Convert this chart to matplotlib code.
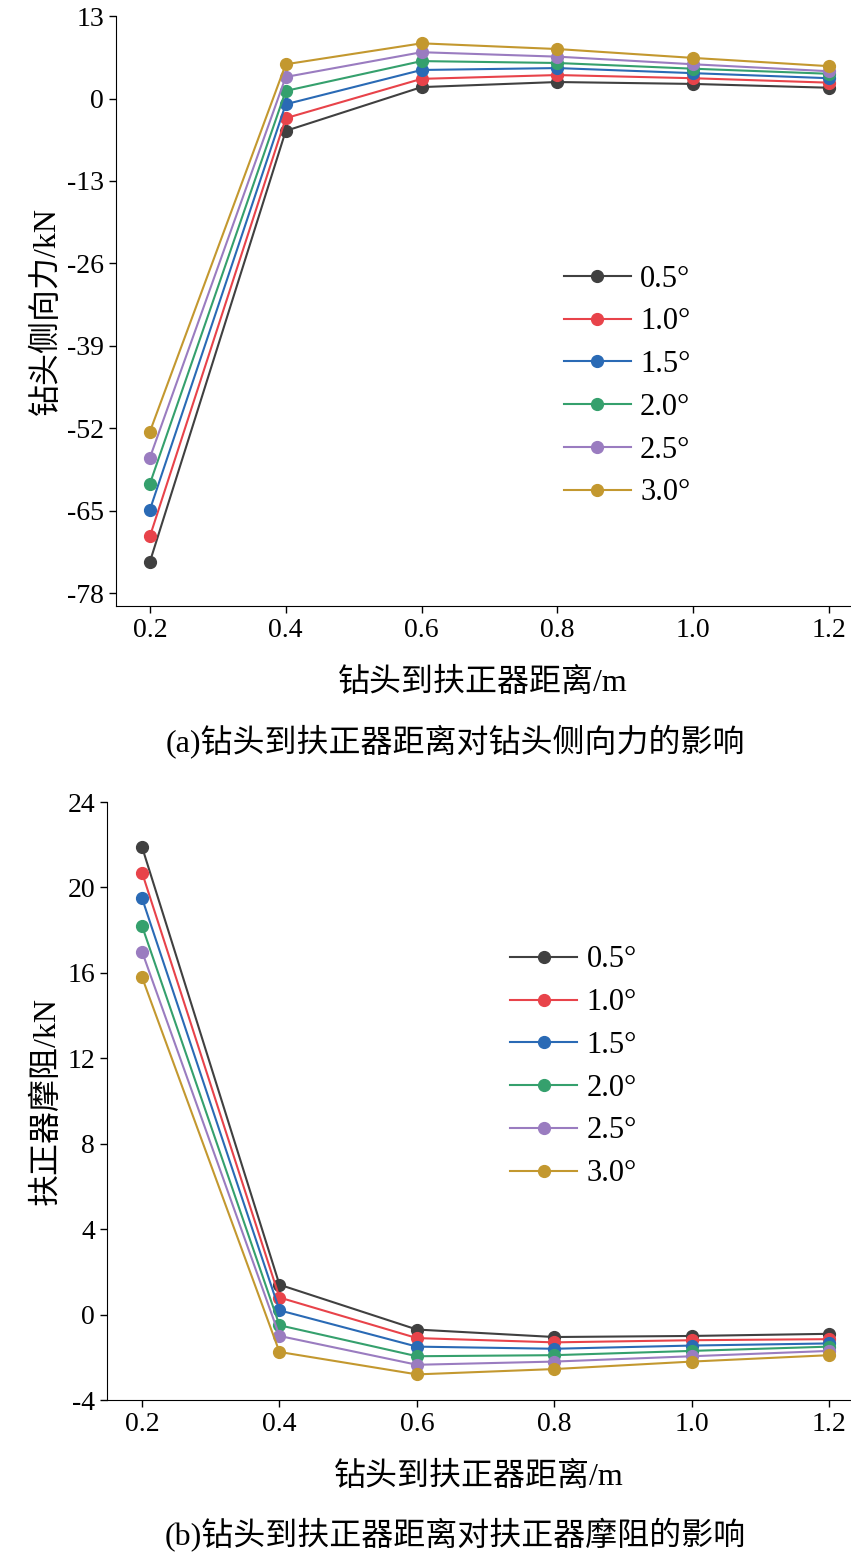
import matplotlib
matplotlib.use("Agg")
import matplotlib.pyplot as plt

plt.rcParams['font.family'] = ['Liberation Serif', 'Noto Sans CJK SC']
plt.rcParams['axes.unicode_minus'] = False

x = [0.2, 0.4, 0.6, 0.8, 1.0, 1.2]
labels = ['0.5°', '1.0°', '1.5°', '2.0°', '2.5°', '3.0°']
colors = ['#404040', '#e8434a', '#2a6ab5', '#35a06d', '#9a7cc0', '#c3982f']

side_force = [
    [-73.0, -5.1, 1.8, 2.6, 2.3, 1.7],
    [-69.0, -3.1, 3.1, 3.7, 3.2, 2.5],
    [-64.8, -0.9, 4.5, 4.8, 4.0, 3.2],
    [-60.7, 1.2, 5.9, 5.6, 4.7, 3.9],
    [-56.6, 3.4, 7.3, 6.6, 5.4, 4.3],
    [-52.5, 5.4, 8.7, 7.8, 6.4, 5.1],
]
friction = [
    [21.9, 1.4, -0.7, -1.05, -1.0, -0.9],
    [20.7, 0.8, -1.1, -1.3, -1.2, -1.15],
    [19.5, 0.2, -1.5, -1.6, -1.45, -1.35],
    [18.2, -0.5, -1.95, -1.9, -1.7, -1.5],
    [17.0, -1.0, -2.35, -2.2, -1.95, -1.7],
    [15.8, -1.75, -2.8, -2.55, -2.2, -1.9],
]

fig = plt.figure(figsize=(8.51, 15.58), dpi=100)
ax1 = fig.add_axes([0.1363, 0.611, 0.8625, 0.3787])
ax2 = fig.add_axes([0.1257, 0.1014, 0.873, 0.3838])

def draw(ax, data, ylim, yticks, ylabel, leg_pos, xlim):
    for d, c, l in zip(data, colors, labels):
        ax.plot(x, d, '-', color=c, lw=1.5, marker='o', ms=8.5,
                mfc=c, mec=c, label=l)
    ax.set_xlim(*xlim)
    ax.set_ylim(*ylim)
    ax.set_xticks(x)
    ax.set_xticklabels(['0.2', '0.4', '0.6', '0.8', '1.0', '1.2'])
    ax.set_yticks(yticks)
    for s in ['top', 'right']:
        ax.spines[s].set_visible(False)
    ax.tick_params(labelsize=20, width=1, length=5)
    ax.set_ylabel(ylabel, fontsize=23, labelpad=4)
    ax.set_xlabel('钻头到扶正器距离/m', fontsize=23, labelpad=18)
    ax.legend(loc='upper left', bbox_to_anchor=leg_pos, bbox_transform=fig.transFigure,
              frameon=False, fontsize=22, handlelength=2.2, labelspacing=0.45,
              borderaxespad=0, handletextpad=0.3)

draw(ax1, side_force, (-80, 13), [13, 0, -13, -26, -39, -52, -65, -78],
     '钻头侧向力/kN', (0.648, 0.838), (0.15, 1.231))
draw(ax2, friction, (-4, 24), [24, 20, 16, 12, 8, 4, 0, -4],
     '扶正器摩阻/kN', (0.585, 0.401), (0.149, 1.23))

fig.text(0.535, 1 - 742/1558, '(a)钻头到扶正器距离对钻头侧向力的影响', ha='center', va='center', fontsize=23)
fig.text(0.535, 1 - 1535/1558, '(b)钻头到扶正器距离对扶正器摩阻的影响', ha='center', va='center', fontsize=23)

fig.savefig('out.png', dpi=100)
